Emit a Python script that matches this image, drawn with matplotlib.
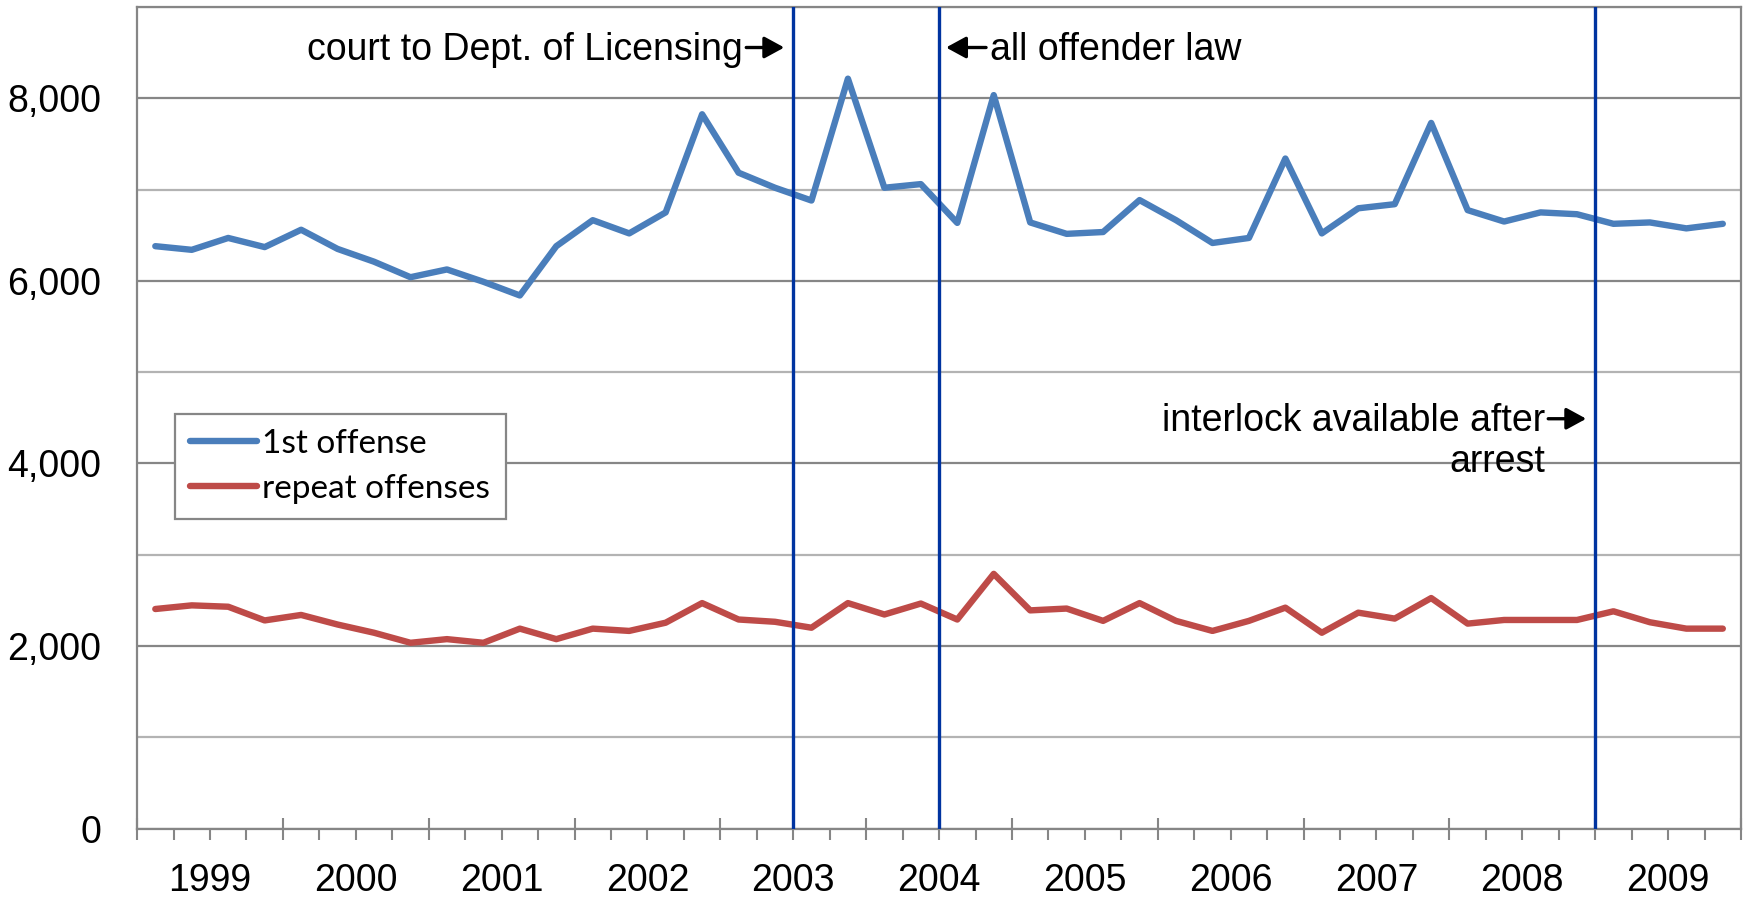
import matplotlib.pyplot as plt
import numpy as np
from matplotlib.ticker import FuncFormatter
from matplotlib.transforms import offset_copy

plt.rcParams["font.family"] = ["Liberation Sans", "DejaVu Sans"]

# quarterly counts, 1999 Q1 .. 2009 Q4
years = [1999, 2000, 2001, 2002, 2003, 2004, 2005, 2006, 2007, 2008, 2009]
first_offense = [
    6380, 6340, 6470, 6370, 6560, 6350, 6210, 6040, 6125, 5990, 5840,
    6380, 6665, 6520, 6750, 7825, 7185, 7020, 6880, 8215, 7020, 7060,
    6635, 8035, 6640, 6515, 6535, 6885, 6665, 6415, 6470, 7340, 6520,
    6795, 6840, 7730, 6775, 6650, 6750, 6730, 6625, 6640, 6575, 6625,
]
repeat_offenses = [
    2405, 2445, 2430, 2280, 2340, 2235, 2145, 2035, 2075, 2035, 2190,
    2075, 2190, 2165, 2255, 2470, 2290, 2265, 2200, 2470, 2345, 2465,
    2290, 2790, 2390, 2410, 2275, 2470, 2275, 2165, 2275, 2420, 2145,
    2365, 2300, 2525, 2245, 2285, 2285, 2285, 2380, 2260, 2190, 2190,
]
# law changes (fractional year)
event_dates = [2003.5, 2004.5, 2009.0]

blue = "#4A7EBB"
red = "#BE4B48"
navy = "#0033A0"
gray = "#868686"

n = len(first_offense)
x = np.arange(n) + 0.5
ev_x = [(d - years[0]) * 4 for d in event_dates]

fig = plt.figure(figsize=(17.44, 9.0), dpi=100)
ax = fig.add_axes([0.0786, 0.0794, 0.9197, 0.9128])

ax.plot(x, first_offense, color=blue, lw=4.6, label="1st offense",
        solid_joinstyle="round", solid_capstyle="round", zorder=3)
ax.plot(x, repeat_offenses, color=red, lw=4.6, label="repeat offenses",
        solid_joinstyle="round", solid_capstyle="round", zorder=3)

for ex in ev_x:
    ax.axvline(ex, color=navy, lw=2.4, zorder=4)

ax.set_xlim(0, n)
ax.set_ylim(0, 9000)

# y axis
ax.set_yticks(range(0, 9000, 2000))
ax.set_yticks(range(1000, 9001, 2000), minor=True)
ax.yaxis.set_major_formatter(FuncFormatter(lambda v, p: f"{int(v):,}"))
ax.tick_params(axis="y", which="both", length=0, labelsize=27, pad=26)
ax.grid(axis="y", which="major", color=gray, lw=1.6, zorder=0)
ax.grid(axis="y", which="minor", color="#B3B3B3", lw=1.6, zorder=0)

# x axis: year boundaries + quarter ticks
ax.set_xticks(range(0, n + 1, 4))
ax.set_xticks([q for q in range(n + 1) if q % 4], minor=True)
ax.set_xticklabels([])
ax.tick_params(axis="x", which="major", direction="inout", length=16,
               width=1.5, color=gray)
ax.tick_params(axis="x", which="minor", direction="out", length=8,
               width=1.5, color=gray)

sec = ax.secondary_xaxis("bottom")
sec.set_xticks([i * 4 + 2 for i in range(len(years))])
sec.set_xticklabels([str(y) for y in years])
sec.tick_params(length=0, labelsize=27, pad=25)
sec.spines["bottom"].set_visible(False)

for s in ax.spines.values():
    s.set_color(gray)
    s.set_linewidth(1.6)


def shifted(dx, dy):
    return offset_copy(ax.transData, fig=fig, x=dx, y=dy, units="dots")


def arrow(xv, yv, x_from, x_to):
    ax.annotate("", xy=(xv, yv), xycoords=shifted(x_to, 12),
                xytext=(xv, yv), textcoords=shifted(x_from, 12),
                arrowprops=dict(arrowstyle="-|>,head_length=0.55,head_width=0.3",
                                color="black", lw=2.4, mutation_scale=22,
                                shrinkA=0, shrinkB=0))


# annotations
top_y = 8425
ax.text(ev_x[0], top_y, "court to Dept. of Licensing", transform=shifted(-50, 0),
        ha="right", va="baseline", fontsize=27)
arrow(ev_x[0], top_y, -47, -9)

ax.text(ev_x[1], top_y, "all offender law", transform=shifted(51, 0),
        ha="left", va="baseline", fontsize=27)
arrow(ev_x[1], top_y, 47, 7)

ax.text(ev_x[2], 4358, "interlock available after", transform=shifted(-50, 0),
        ha="right", va="baseline", fontsize=27)
arrow(ev_x[2], 4358, -47, -9)
ax.text(ev_x[2], 3905, "arrest", transform=shifted(-50, 0),
        ha="right", va="baseline", fontsize=27)

leg = ax.legend(loc="lower left", bbox_to_anchor=(0.0237, 0.377, 0.206, 0.141),
                mode="expand", borderaxespad=0, fancybox=False, framealpha=1,
                edgecolor=gray, prop={"family": "Lato", "size": 24},
                handlelength=2.0, handletextpad=0.15, labelspacing=0.45,
                borderpad=0.45)
leg.get_frame().set_linewidth(1.6)

fig.savefig("out.png", dpi=100)
